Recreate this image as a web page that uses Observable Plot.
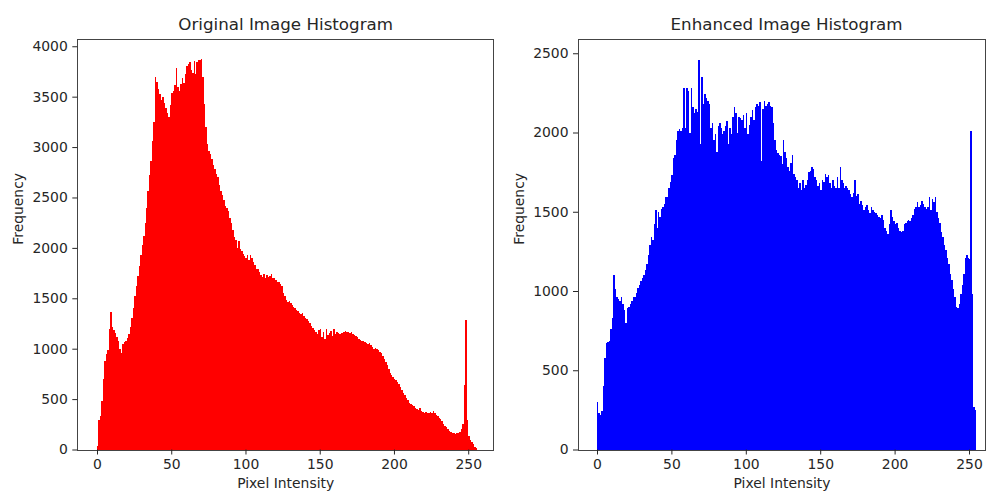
<!DOCTYPE html>
<html>
<head>
<meta charset="utf-8">
<script src="https://cdn.jsdelivr.net/npm/d3@7"></script>
<script src="https://cdn.jsdelivr.net/npm/@observablehq/plot@0.6"></script>
<style>
  html, body { margin: 0; padding: 0; background: #fff; overflow: hidden; width: 986px; height: 493px; }
  .panel { position: absolute; top: 0; }
  #left { left: 0; }
  #right { left: 500px; }
  .panel svg rect { shape-rendering: crispEdges; }
</style>
</head>
<body>
<div id="left" class="panel"></div>
<div id="right" class="panel"></div>
<script>
// Frequency per pixel intensity (bins 0..255)
const originalCounts = [
  30, 290, 330, 480, 700, 880, 950, 990, 1200, 1360,
  1220, 1190, 1160, 1120, 1080, 1000, 960, 1050, 1070, 1080,
  1110, 1150, 1220, 1300, 1400, 1520, 1620, 1720, 1820, 1930,
  2030, 2120, 2250, 2400, 2560, 2720, 2860, 3060, 3250, 3700,
  3650, 3580, 3530, 3470, 3500, 3440, 3390, 3340, 3300, 3420,
  3540, 3560, 3620, 3780, 3600, 3560, 3630, 3690, 3640, 3720,
  3800, 3820, 3840, 3760, 3730, 3850, 3720, 3840, 3860, 3860,
  3870, 3700, 3430, 3200, 3030, 2960, 2930, 2880, 2820, 2780,
  2730, 2700, 2620, 2560, 2520, 2470, 2420, 2400, 2370, 2300,
  2250, 2180, 2110, 2080, 2000, 2070, 1990, 1970, 1940, 1920,
  1900, 1930, 1880, 1930, 1900, 1860, 1830, 1790, 1790, 1760,
  1730, 1710, 1740, 1700, 1730, 1710, 1720, 1740, 1700, 1700,
  1680, 1660, 1660, 1640, 1620, 1550, 1520, 1480, 1460, 1470,
  1450, 1430, 1410, 1400, 1380, 1370, 1350, 1340, 1350, 1320,
  1300, 1290, 1270, 1250, 1230, 1210, 1190, 1170, 1150, 1190,
  1200, 1120, 1170, 1100, 1200, 1140, 1160, 1180, 1130, 1200,
  1150, 1170, 1160, 1150, 1160, 1160, 1170, 1180, 1170, 1170,
  1160, 1170, 1150, 1140, 1130, 1120, 1100, 1090, 1080, 1080,
  1070, 1060, 1050, 1055, 1040, 1020, 1000, 1005, 1000, 990,
  970, 955, 930, 900, 870, 840, 800, 760, 740, 720,
  700, 690, 670, 650, 620, 590, 560, 540, 510, 490,
  460, 450, 440, 430, 410, 400, 395, 410, 385, 370,
  365, 375, 360, 360, 370, 360, 380, 360, 340, 330,
  310, 300, 280, 255, 235, 220, 200, 185, 170, 165,
  160, 155, 160, 165, 175, 200, 250, 640, 1280, 290,
  130, 90, 70, 50, 25, 10
];
const enhancedCounts = [
  300, 230, 220, 240, 400, 580, 670, 680, 685, 760,
  830, 1100, 1010, 960, 950, 940, 960, 920, 880, 800,
  890, 900, 920, 940, 960, 965, 990, 1020, 1040, 1060,
  1080, 1100, 1130, 1170, 1230, 1290, 1340, 1320, 1420, 1510,
  1400, 1500, 1470, 1520, 1530, 1550, 1590, 1590, 1650, 1690,
  1730, 1840, 1860, 1950, 2010, 2020, 2010, 2030, 2280, 2030,
  2280, 2260, 2000, 2280, 2160, 2120, 2150, 2130, 2460, 1930,
  2350, 2180, 2240, 2220, 2200, 2180, 2030, 2060, 1950, 1990,
  1880, 2040, 2060, 2030, 1990, 2010, 2040, 2070, 1930, 2030,
  1990, 2100, 2160, 2120, 2000, 2100, 2090, 2080, 2110, 2030,
  2120, 1990, 2050, 2100, 2140, 2080, 2160, 2180, 2170, 2190,
  1820, 2150, 2200, 2170, 2180, 2190, 2170, 2160, 2060, 1950,
  1890, 1870, 1860, 1850, 1800, 1950, 1880, 1840, 1780, 1760,
  1810, 1860, 1740, 1720, 1700, 1650, 1680, 1640, 1700, 1650,
  1670, 1700, 1750, 1760, 1780, 1770, 1720, 1700, 1660, 1680,
  1640, 1700, 1690, 1740, 1720, 1730, 1680, 1650, 1700, 1660,
  1650, 1720, 1650, 1780, 1700, 1680, 1650, 1660, 1650, 1640,
  1610, 1590, 1620, 1700, 1600, 1610, 1550, 1570, 1540, 1510,
  1530, 1540, 1510, 1490, 1530, 1510, 1500, 1490, 1480, 1470,
  1460, 1480, 1450, 1400, 1380, 1360, 1420, 1510, 1470, 1440,
  1420, 1430, 1400, 1380, 1370, 1380, 1420, 1430, 1440, 1450,
  1440, 1460, 1480, 1520, 1530, 1560, 1530, 1540, 1570, 1550,
  1530, 1520, 1530, 1590, 1510, 1580, 1560, 1590, 1500, 1460,
  1430, 1370, 1340, 1290, 1260, 1210, 1170, 1110, 1070, 1010,
  960, 900, 890, 920, 980, 1040, 1110, 1210, 1230, 1210,
  1200, 2010, 980, 270, 250, 0
];
const xTicks = [0, 50, 100, 150, 200, 250];
const originalYTicks = [0, 500, 1000, 1500, 2000, 2500, 3000, 3500, 4000];
const enhancedYTicks = [0, 500, 1000, 1500, 2000, 2500];
const originalTitle = "Original Image Histogram";
const enhancedTitle = "Enhanced Image Histogram";
const xLabel = "Pixel Intensity";
const yLabel = "Frequency";

function panel({counts, color, title, yTicks, yMax, width, marginLeft, marginRight, xDomain, titleDx}) {
  const bins = counts.map((c, i) => ({x1: i, x2: i + 1, y: c}));
  return Plot.plot({
    width,
    height: 493,
    marginLeft,
    marginRight,
    marginTop: 39,
    marginBottom: 43.5,
    style: {fontFamily: "'DejaVu Sans', sans-serif", fontSize: "13.9px", color: "#262626", background: "#fff", overflow: "visible"},
    x: {domain: xDomain},
    y: {domain: [0, yMax]},
    marks: [
      Plot.rectY(bins, {x1: "x1", x2: "x2", y: "y", fill: color}),
      Plot.frame({stroke: "#444", strokeWidth: 1}),
      Plot.axisX({ticks: xTicks, tickSize: 5, tickPadding: 4.5, tickFormat: d => String(d), label: null}),
      Plot.axisY({ticks: yTicks, tickSize: 5, tickPadding: 5, tickFormat: d => String(d), label: null}),
      Plot.text([title], {frameAnchor: "top", dy: -15, dx: titleDx, fontSize: 16.7, lineAnchor: "middle", fill: "#262626"}),
      Plot.text([xLabel], {frameAnchor: "bottom", dy: 33.5, lineAnchor: "middle", fill: "#262626"}),
      Plot.text([yLabel], {frameAnchor: "left", dx: -59, rotate: -90, lineAnchor: "middle", fill: "#262626"})
    ]
  });
}

document.getElementById("left").appendChild(panel({
  counts: originalCounts, color: "#ff0000", title: originalTitle, yTicks: originalYTicks,
  yMax: 4072, width: 500, marginLeft: 77.3, marginRight: 7, xDomain: [-13.27, 266.7], titleDx: 0
}));
document.getElementById("right").appendChild(panel({
  counts: enhancedCounts, color: "#0000ff", title: enhancedTitle, yTicks: enhancedYTicks,
  yMax: 2590, width: 486, marginLeft: 78, marginRight: 1, xDomain: [-12.77, 260.75], titleDx: 4.5
}));
</script>
</body>
</html>
